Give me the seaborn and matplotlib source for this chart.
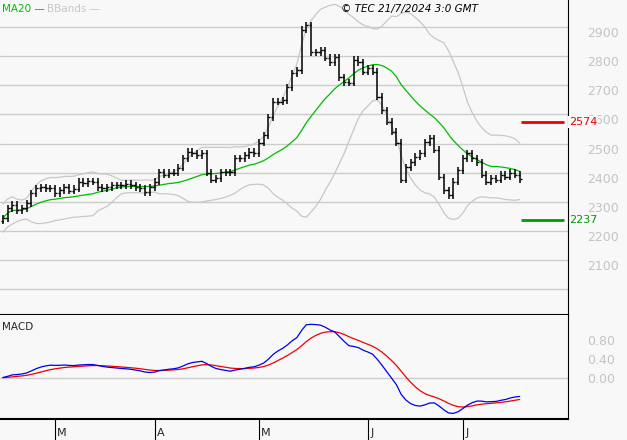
import numpy as np
import pandas as pd
import matplotlib
matplotlib.use("Agg")
import matplotlib.pyplot as plt
import matplotlib.transforms as mtransforms
import seaborn as sns

closes = [2244, 2278, 2289, 2271, 2278, 2295, 2330, 2347, 2350, 2347, 2347, 2330, 2340, 2350, 2337,
          2344, 2368, 2364, 2371, 2368, 2350,
          2347, 2350, 2357, 2357, 2357, 2361, 2357, 2350, 2347, 2333, 2350, 2368, 2402, 2392, 2399,
          2399, 2416, 2450, 2471, 2467, 2460, 2467, 2399, 2375, 2381, 2402, 2402, 2402, 2450, 2450,
          2460, 2471, 2467, 2502,
          2529, 2591, 2643, 2643, 2649, 2694, 2742, 2752, 2890, 2907, 2814, 2814, 2821, 2794, 2780,
          2797, 2728, 2711, 2708, 2787, 2780, 2746, 2759, 2746, 2660,
          2615, 2574, 2540, 2502, 2375, 2419, 2436, 2454, 2467, 2505, 2519, 2478, 2385, 2340, 2323,
          2368, 2409, 2450, 2467, 2450, 2436, 2392, 2368, 2381, 2375, 2392, 2385, 2399, 2392, 2378]
wick = 12
month_labels = ["M", "A", "M", "J", "J"]
resistance = 2574
support = 2237
price_ticks = [2100, 2200, 2300, 2400, 2500, 2600, 2700, 2800, 2900]
macd_ticks = [0.0, 0.4, 0.8]

n = len(closes)
dates = pd.bdate_range("2024-02-15", periods=n)
c = pd.Series(closes, dtype=float)
o = c.shift(1).fillna(c.iloc[0] - 10)
hi = np.maximum(o, c) + wick
lo = np.minimum(o, c) - wick
ma = c.rolling(20, min_periods=1).mean()
sd = c.rolling(20, min_periods=2).std().bfill()
up, dn = ma + 2 * sd, ma - 2 * sd
macd = (c.ewm(span=12, adjust=False).mean() - c.ewm(span=26, adjust=False).mean()) / 100
sig = macd.ewm(span=9, adjust=False).mean()
idx = np.arange(n)
df = pd.DataFrame({"i": idx, "ma": ma, "up": up, "dn": dn, "macd": macd, "sig": sig})

sns.set_style("white")
bg = "#f8f8f8"
fig = plt.figure(figsize=(6.27, 4.4), dpi=100, facecolor=bg)
ax = fig.add_axes([0, 1 - 315 / 440, 568 / 627, 315 / 440], facecolor=bg)
ax2 = fig.add_axes([0, 1 - 419 / 440, 568 / 627, 104 / 440], facecolor=bg, sharex=ax)

xmin, xmax = -0.6, 119.2
for a in (ax, ax2):
    for s in ("top", "left"):
        a.spines[s].set_visible(False)
    a.spines["right"].set_color("black")
    a.spines["bottom"].set_color("black")
    a.spines["bottom"].set_linewidth(1.5)
    a.yaxis.tick_right()
    a.tick_params(axis="y", length=0, pad=14, labelcolor="#c4c4c4", labelsize=9)

for g in [2000] + price_ticks:
    ax.axhline(g, color="#cccccc", lw=1, zorder=0)
sns.lineplot(data=df, x="i", y="up", ax=ax, color="#c8c8c8", lw=0.9)
sns.lineplot(data=df, x="i", y="dn", ax=ax, color="#c8c8c8", lw=0.9)
sns.lineplot(data=df, x="i", y="ma", ax=ax, color="#00bb00", lw=0.9)
ax.vlines(idx, lo, hi, color="black", lw=1.1)
ax.hlines(o, idx - 0.45, idx, color="black", lw=1)
ax.hlines(c, idx, idx + 0.45, color="black", lw=1)
ax.hlines(resistance, 109.2, 118.3, color="#ee0000", lw=2)
ax.hlines(support, 109.2, 118.3, color="#009900", lw=2)
ax.text(1.002, (resistance - 1911) / (2993 - 1911), str(resistance), transform=ax.transAxes,
        color="#ee0000", fontsize=8, va="center", zorder=5,
        bbox=dict(facecolor=bg, edgecolor="none", pad=0.5))
ax.text(1.002, (support - 1911) / (2993 - 1911), str(support), transform=ax.transAxes,
        color="#009900", fontsize=8, va="center")
ax.set_ylim(1911, 2993)
ax.set_yticks(price_ticks)
ax.set_yticklabels([str(t) for t in price_ticks], va="top")
ax.set_xlim(xmin, xmax)
ax.set_xlabel("")
ax.set_ylabel("")
ax.tick_params(axis="x", bottom=False, labelbottom=False)

fig.text(0.003, 0.992, "MA20 —", color="#00bb00", fontsize=7.5, va="top")
fig.text(0.075, 0.992, "BBands —", color="#c8c8c8", fontsize=7.5, va="top")
fig.text(0.763, 0.992, "© TEC 21/7/2024 3:0 GMT", color="black", fontsize=7.5,
         va="top", ha="right", style="italic")

ax2.axhline(0, color="#cccccc", lw=1, zorder=0)
sns.lineplot(data=df, x="i", y="sig", ax=ax2, color="#ee0000", lw=0.9)
sns.lineplot(data=df, x="i", y="macd", ax=ax2, color="#0000ee", lw=0.9)
ax2.set_ylim(-0.88, 1.33)
ax2.set_yticks(macd_ticks)
ax2.set_yticklabels(["0.00", "0.40", "0.80"])
ax2.set_xlabel("")
ax2.set_ylabel("")
ax2.text(0.003, 0.93, "MACD", transform=ax2.transAxes, fontsize=7.5, va="top")

firsts = [i for i in range(1, n) if dates[i].month != dates[i - 1].month]
ax2.set_xticks(firsts)
ax2.set_xticklabels([])
ax2.tick_params(axis="x", length=16, direction="out", bottom=True, color="black")
tr = mtransforms.blended_transform_factory(ax2.transData, ax2.transAxes)
for f, lab in zip(firsts, month_labels):
    ax2.text(f + 0.5, -0.13, lab, transform=tr, fontsize=8, va="center", ha="left")
ax2.set_xlim(xmin, xmax)

fig.savefig("out.png", dpi=100, facecolor=bg)
